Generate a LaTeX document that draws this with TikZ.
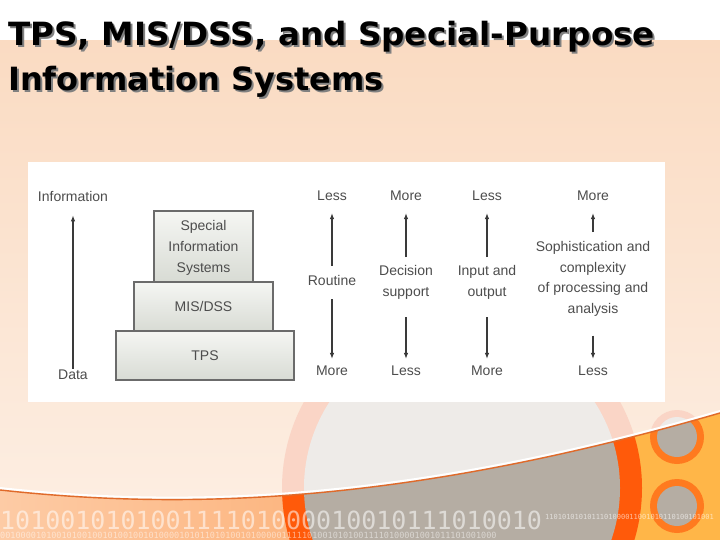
\documentclass[tikz,border=0pt]{standalone}
\usepackage{fontspec}
\setmainfont{Liberation Sans}
\newfontfamily\titlefont{DejaVu Sans}
\newfontfamily\binfont{DejaVu Sans Mono}
\usetikzlibrary{arrows.meta}
\definecolor{peachTop}{HTML}{FADBC2}
\definecolor{peachBot}{HTML}{FDEFE4}
\definecolor{ringPink}{HTML}{FAD5C6}
\definecolor{lightGray}{HTML}{EEEBE8}
\definecolor{leftOrA}{HTML}{FDCBA5}
\definecolor{leftOrB}{HTML}{FCAA6C}
\definecolor{yellowOr}{HTML}{FFB648}
\definecolor{deepOr}{HTML}{FF5A0A}
\definecolor{ringOr}{HTML}{FF7A1F}
\definecolor{warmGray}{HTML}{B5ADA3}
\definecolor{swooshCol}{HTML}{E06A2A}
\definecolor{boxTop}{HTML}{F5F6F3}
\definecolor{boxBot}{HTML}{D8DBD4}
\definecolor{boxLine}{HTML}{6B6B6B}
\definecolor{txtGray}{HTML}{4D4D4D}
\definecolor{arrGray}{HTML}{3A3A3A}
\definecolor{shadowGray}{HTML}{808080}
\tikzset{
  lbl/.style={font=\fontsize{14}{20.7}\selectfont, text=txtGray, inner sep=0pt, align=center},
  sysbox/.style={draw=boxLine, line width=1.2pt, top color=boxTop, bottom color=boxBot,
    inner sep=0pt, font=\fontsize{14}{21}\selectfont, text=txtGray, align=center},
  arr/.style={-{Latex[length=6pt,width=4.5pt]}, draw=arrGray, line width=1.2pt},
  ttl/.style={font=\titlefont\bfseries\fontsize{32}{45}\selectfont, inner sep=0pt, anchor=base west},
  binbig/.style={font=\binfont\fontsize{25}{25}\selectfont, text=white, text opacity=0.55, inner sep=0pt, anchor=base west},
  binsmall/.style={font=\binfont\fontsize{7}{7}\selectfont, text=white, text opacity=0.6, inner sep=0pt, anchor=base west},
  binmid/.style={font=\binfont\fontsize{8.5}{8.5}\selectfont, text=white, text opacity=0.5, inner sep=0pt, anchor=base west},
}
\begin{document}
\begin{tikzpicture}[x=1pt,y=-1pt]
\useasboundingbox (0,0) rectangle (720,540);
% ---------- background ----------
\fill[top color=peachTop,bottom color=peachBot] (0,40) rectangle (720,540);
\fill[white] (0,0) rectangle (720,40);
\fill[ringPink] (462,488) circle[radius=180];
\fill[lightGray] (462,488) circle[radius=158];
\fill[ringPink] (677,437) circle[radius=27];
\fill[lightGray] (677,437) circle[radius=20];
% white panel
\fill[white] (28,162) rectangle (665,402);
% lower swoosh region
\begin{scope}
  \clip (0,490) .. controls (200,512) and (420,500) .. (720,413) -- (720,540) -- (0,540) -- cycle;
  \fill[yellowOr] (0,400) rectangle (720,540);
  \fill[left color=leftOrA,right color=leftOrB] (0,400) rectangle (462,540);
  \fill[deepOr] (462,488) circle[radius=180];
  \fill[warmGray] (462,488) circle[radius=158];
  \fill[ringOr] (677,437) circle[radius=27];
  \fill[warmGray] (677,437) circle[radius=20];
  \fill[ringOr] (677,506) circle[radius=27];
  \fill[warmGray] (677,506) circle[radius=20];
\end{scope}
\draw[white, line width=2pt] (0,488) .. controls (200,510) and (420,498) .. (720,411);
\draw[swooshCol, line width=1.4pt] (0,490) .. controls (200,512) and (420,500) .. (720,413);
% binary digits
\node[binbig] (bin1) at (0,529) {101001010100111101000010010111010010};
\node[binsmall] (bin2) at (545,519) {1101010101011101000011001010110100101001};
\node[binmid] (bin3) at (0,538.5) {0010000101001010010010100100101000010101101010010100000111110100101010011110100001001011101001000};
% ---------- title ----------
\node[ttl, text=shadowGray, xscale=1.02] (t1s) at (10,48) {TPS, MIS/DSS, and Special-Purpose};
\node[ttl, text=black, xscale=1.02] (t1) at (8,46) {TPS, MIS/DSS, and Special-Purpose};
\node[ttl, text=shadowGray] (t2s) at (10,93) {Information Systems};
\node[ttl, text=black] (t2) at (8,91) {Information Systems};
% ---------- pyramid ----------
\node[sysbox, minimum width=178pt, minimum height=49pt] (tps) at (205,355.5) {TPS};
\node[sysbox, minimum width=139pt, minimum height=49pt] (mis) at (203.5,306.5) {MIS/DSS};
\node[sysbox, minimum width=99pt, minimum height=71pt, inner ysep=3pt, text depth=0pt] (sis) at (203.5,246.5) {Special\\Information\\Systems};
% ---------- data / information axis ----------
\node[lbl] (info) at (73,196) {Information};
\node[lbl] (data) at (73,375) {Data};
\draw[arr, shorten <=1pt, shorten >=14pt] (data) -- (info);
% ---------- column 1 ----------
\node[lbl] (less1) at (332,196) {Less};
\node[lbl] (routine) at (332,280) {Routine};
\node[lbl] (more1) at (332,371) {More};
\draw[arr, shorten <=9pt, shorten >=12pt] (routine) -- (less1);
\draw[arr, shorten <=14pt, shorten >=7pt] (routine) -- (more1);
% ---------- column 2 ----------
\node[lbl] (more2) at (406,196) {More};
\node[lbl, anchor=north, font=\fontsize{14}{21}\selectfont] (dec) at (406,265) {Decision\\support};
\node[lbl] (less2) at (406,371) {Less};
\draw[arr, shorten <=8pt, shorten >=12pt] (dec) -- (more2);
\draw[arr, shorten <=18pt, shorten >=7pt] (dec) -- (less2);
% ---------- column 3 ----------
\node[lbl] (less3) at (487,196) {Less};
\node[lbl, anchor=north, font=\fontsize{14}{21}\selectfont] (io) at (487,265) {Input and\\output};
\node[lbl] (more3) at (487,371) {More};
\draw[arr, shorten <=8pt, shorten >=12pt] (io) -- (less3);
\draw[arr, shorten <=18pt, shorten >=7pt] (io) -- (more3);
% ---------- column 4 ----------
\node[lbl] (more4) at (593,196) {More};
\node[lbl, anchor=north] (soph) at (593,241) {Sophistication and\\complexity\\of processing and\\analysis};
\node[lbl] (less4) at (593,371) {Less};
\draw[arr, shorten <=9pt, shorten >=12pt] (soph) -- (more4);
\draw[arr, shorten <=19pt, shorten >=7pt] (soph) -- (less4);
\end{tikzpicture}
\end{document}
